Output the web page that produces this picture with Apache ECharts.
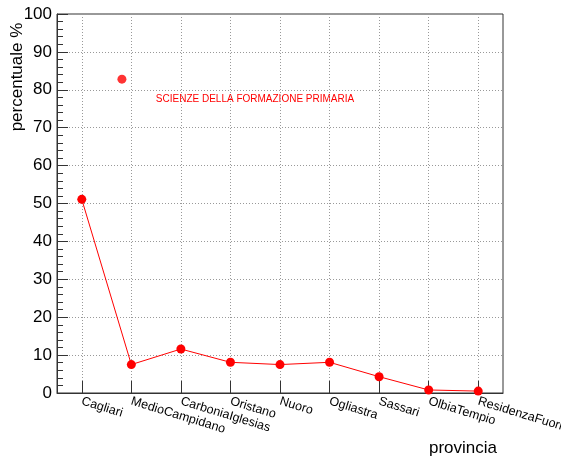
<!DOCTYPE html>
<html>
<head>
<meta charset="utf-8">
<script src="https://cdn.jsdelivr.net/npm/echarts@6/dist/echarts.min.js"></script>
<style>html,body{margin:0;padding:0;background:#fff;}#c{width:561px;height:456px;}</style>
</head>
<body>
<div id="c"></div>
<script>
const categories = ['Cagliari','MedioCampidano','CarboniaIglesias','Oristano','Nuoro','Ogliastra','Sassari','OlbiaTempio','ResidenzaFuori'];
const percentuale = [51.1, 7.5, 11.6, 8.1, 7.5, 8.1, 4.3, 0.8, 0.5];
const extraPoint = [[1.31, 82.8]];
const yTicks = [0, 100, 10];
const annotation = 'SCIENZE DELLA FORMAZIONE PRIMARIA';
const yTitle = 'percentuale %';
const xTitle = 'provincia';

const chart = echarts.init(document.getElementById('c'), null, {renderer: 'canvas'});
const font = 'Liberation Sans, Arial, Helvetica, sans-serif';
chart.setOption({
  animation: false,
  backgroundColor: '#fff',
  grid: {left: 57, right: 58, top: 14, bottom: 63, containLabel: false, outerBoundsMode: 'none', show: true, borderColor: '#333', borderWidth: 1, backgroundColor: 'transparent'},
  xAxis: [{
    type: 'category', data: categories, boundaryGap: true,
    axisLine: {show: true, lineStyle: {color: '#333', width: 1}},
    axisTick: {show: true, inside: true, length: 12, alignWithLabel: true, lineStyle: {color: '#333'}},
    axisLabel: {rotate: -17, margin: 8, fontFamily: font, fontSize: 12.5, color: '#000', interval: 0},
    splitLine: {show: true, alignWithLabel: true, lineStyle: {color: '#999', type: [1, 2], width: 1}}
  }, {
    type: 'value', min: 0, max: 9, show: false, gridIndex: 0
  }],
  yAxis: {
    type: 'value', min: yTicks[0], max: yTicks[1], interval: yTicks[2],
    axisLine: {show: true, lineStyle: {color: '#333', width: 1}},
    axisTick: {show: true, inside: true, length: 11, lineStyle: {color: '#333'}},
    minorTick: {show: true, splitNumber: 5, length: 6, lineStyle: {color: '#333'}},
    axisLabel: {margin: 5, fontFamily: font, fontSize: 17, color: '#000'},
    splitLine: {show: true, lineStyle: {color: '#999', type: [1, 2], width: 1}}
  },
  series: [{
    type: 'line', data: percentuale, xAxisIndex: 0,
    symbol: 'circle', symbolSize: 9, showSymbol: true,
    lineStyle: {color: '#ff0000', width: 1},
    itemStyle: {color: '#ff0000'}
  }, {
    type: 'scatter', data: extraPoint, xAxisIndex: 1,
    symbol: 'circle', symbolSize: 9,
    itemStyle: {color: '#ff0000'}
  }],
  graphic: [{
    type: 'text', x: 255, y: 99,
    style: {text: annotation, fill: '#ff0000', font: '10px ' + font, textAlign: 'center', textVerticalAlign: 'middle'}
  }, {
    type: 'text', x: 17, y: 77, rotation: Math.PI / 2,
    style: {text: yTitle, fill: '#000', font: '17px ' + font, textAlign: 'center', textVerticalAlign: 'middle'}
  }, {
    type: 'text', x: 497, y: 448,
    style: {text: xTitle, fill: '#000', font: '17px ' + font, textAlign: 'right', textVerticalAlign: 'middle'}
  }]
});
</script>
</body>
</html>
